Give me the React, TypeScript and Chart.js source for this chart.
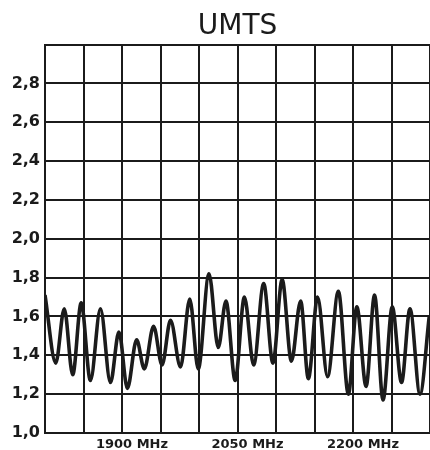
import React, { useEffect, useRef } from "react";
import { Chart, registerables } from "chart.js";

Chart.register(...registerables);

const TITLE = "UMTS";

// Frequency (MHz) of each turning point of the curve
const FREQ_MHZ = [
  1800, 1814, 1825, 1836, 1847, 1859, 1872, 1885, 1896, 1907,
  1919, 1929, 1941, 1952, 1963, 1976, 1988, 1999, 2013, 2025,
  2035, 2047, 2059, 2071, 2084, 2096, 2108, 2120, 2132, 2142,
  2154, 2167, 2181, 2194, 2205, 2217, 2228, 2239, 2251, 2263,
  2274, 2287, 2299,
];

// VSWR at those frequencies
const VSWR = [
  1.71, 1.36, 1.64, 1.30, 1.67, 1.27, 1.64, 1.26, 1.52, 1.23,
  1.48, 1.33, 1.55, 1.35, 1.58, 1.34, 1.69, 1.33, 1.82, 1.44,
  1.68, 1.27, 1.70, 1.35, 1.77, 1.36, 1.79, 1.37, 1.68, 1.28,
  1.70, 1.29, 1.73, 1.20, 1.65, 1.24, 1.71, 1.17, 1.65, 1.26,
  1.64, 1.20, 1.60,
];

const X_LABELED = [1900, 2050, 2200];
const X_UNIT = "MHz";
const X_MIN = 1800;
const X_MAX = 2300;
const X_STEP = 50;

const Y_MIN = 1.0;
const Y_MAX = 3.0;
const Y_STEP = 0.2;
const Y_LABEL_MAX = 2.8;

const INK = "#1b1b1b";

export default function App() {
  const ref = useRef<HTMLCanvasElement>(null);

  useEffect(() => {
    const canvas = ref.current;
    if (!canvas) return;
    const chart = new Chart(canvas, {
      type: "line",
      data: {
        datasets: [
          {
            data: FREQ_MHZ.map((f, i) => ({ x: f, y: VSWR[i] })),
            borderColor: INK,
            borderWidth: 3.6,
            pointRadius: 0,
            cubicInterpolationMode: "monotone",
            fill: false,
          },
        ],
      },
      options: {
        responsive: false,
        animation: false,
        devicePixelRatio: 1,
        layout: { padding: 0 },
        plugins: {
          legend: { display: false },
          tooltip: { enabled: false },
          title: {
            display: true,
            text: TITLE,
            color: INK,
            fullSize: false,
            font: { family: "DejaVu Sans", size: 28, weight: "normal" },
            padding: { top: 10, bottom: 1 },
          },
        },
        scales: {
          x: {
            type: "linear",
            min: X_MIN,
            max: X_MAX,
            afterFit: (s: any) => {
              s.height = 17;
            },
            grid: { color: INK, lineWidth: 2, drawTicks: false },
            border: { color: INK, width: 2 },
            ticks: {
              stepSize: X_STEP,
              autoSkip: false,
              maxRotation: 0,
              padding: 4,
              labelOffset: 10,
              color: INK,
              font: { family: "DejaVu Sans", size: 13, weight: "bold" },
              callback: (v: any) => {
                const n = Math.round(Number(v));
                return X_LABELED.includes(n) ? `${n} ${X_UNIT}` : "";
              },
            },
          },
          y: {
            type: "linear",
            min: Y_MIN,
            max: Y_MAX,
            afterFit: (s: any) => {
              s.width = 45;
            },
            grid: { color: INK, lineWidth: 2, drawTicks: false },
            border: { color: INK, width: 2 },
            ticks: {
              stepSize: Y_STEP,
              autoSkip: false,
              padding: 5,
              color: INK,
              font: { family: "DejaVu Sans", size: 16, weight: "bold" },
              callback: (v: any) => {
                const r = Math.round(Number(v) * 10) / 10;
                return r > Y_LABEL_MAX + 1e-6 ? "" : r.toFixed(1).replace(".", ",");
              },
            },
          },
        },
      },
    });
    return () => chart.destroy();
  }, []);

  return (
    <div
      style={{
        position: "fixed",
        left: 0,
        top: 0,
        width: 430,
        height: 450,
        overflow: "hidden",
        background: "#fff",
      }}
    >
      <canvas ref={ref} width={434} height={450} style={{ display: "block" }} />
    </div>
  );
}
